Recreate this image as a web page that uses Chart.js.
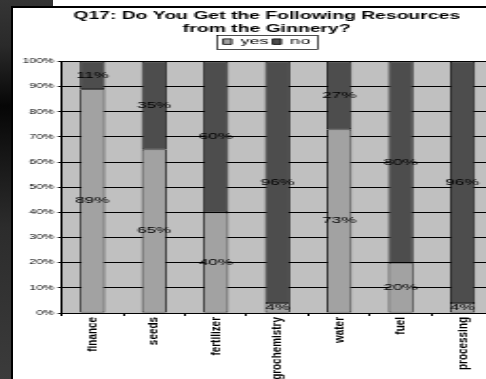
<!DOCTYPE html>
<html>
<head>
<meta charset="utf-8">
<title>Q17: Do You Get the Following Resources from the Ginnery?</title>
<script src="https://cdn.jsdelivr.net/npm/chart.js@4.4.1/dist/chart.umd.min.js"></script>
<style>
  html, body { margin: 0; padding: 0; width: 486px; height: 379px; overflow: hidden; background: #fff; }
  #side {
    position: absolute; left: 0; top: 0; width: 53px; height: 379px;
    background: linear-gradient(to bottom, #353535 0%, #2a2a2a 12%, #060606 28%, #151515 40%, #2c2c2c 60%, #3b3b3b 100%);
  }
  #frame {
    position: absolute; left: 11px; top: 6px; width: 540px; height: 390px;
    border-left: 2px solid #000; border-top: 2px solid #000; background: #fff;
  }
  /* the chart is drawn narrow and stretched sideways */
  #stretch {
    position: absolute; left: 0; top: 0; width: 267px; height: 372px;
    transform: scale(1.9, 1); transform-origin: 0 0;
  }
</style>
</head>
<body>
<div id="side"></div>
<div id="frame"><div id="stretch"><canvas id="c" width="267" height="372"></canvas></div></div>
<script>
const categories = ['finance', 'seeds', 'fertilizer', 'agrochemistry', 'water', 'fuel', 'processing'];
const yesValues = [89, 65, 40, 4, 73, 20, 4];
const noValues  = [11, 35, 60, 96, 27, 80, 96];
const percentTicks = [0, 10, 20, 30, 40, 50, 60, 70, 80, 90, 100];

const FONT = '"Liberation Sans", Arial, sans-serif';

// grey plot area behind the bars
const plotBackground = {
  id: 'plotBackground',
  beforeDraw(chart) {
    const { ctx, chartArea: a } = chart;
    ctx.save();
    ctx.fillStyle = '#c0c0c0';
    ctx.fillRect(a.left, a.top, a.right - a.left, a.bottom - a.top);
    ctx.restore();
  }
};

// thin frame round the legend items
const legendFrame = {
  id: 'legendFrame',
  afterDraw(chart) {
    const boxes = chart.legend && chart.legend.legendHitBoxes;
    if (!boxes || !boxes.length) return;
    const left = Math.min(...boxes.map(b => b.left)) - 4;
    const right = Math.max(...boxes.map(b => b.left + b.width)) + 3;
    const top = boxes[0].top - 2;
    const bottom = boxes[0].top + boxes[0].height + 2;
    const ctx = chart.ctx;
    ctx.save();
    ctx.strokeStyle = '#000';
    ctx.lineWidth = 0.7;
    ctx.strokeRect(Math.round(left) + 0.5, Math.round(top) + 0.5, Math.round(right - left), Math.round(bottom - top));
    ctx.restore();
  }
};

// vertical category names under the axis, written upward and lengthened
const categoryNames = {
  id: 'categoryNames',
  afterDraw(chart) {
    const scale = chart.scales.x;
    const ctx = chart.ctx;
    ctx.save();
    ctx.font = 'bold 7.3px ' + FONT;
    ctx.fillStyle = '#000';
    ctx.textAlign = 'right';
    ctx.textBaseline = 'middle';
    chart.data.labels.forEach((name, i) => {
      const x = scale.getPixelForTick(i);
      ctx.save();
      ctx.translate(x, scale.top + 4);
      ctx.rotate(-Math.PI / 2);
      ctx.scale(1.36, 1);
      ctx.fillText(name, 0, 0);
      ctx.restore();
    });
    ctx.restore();
  }
};

// percentage written in the middle of every bar segment
const segmentLabels = {
  id: 'segmentLabels',
  afterDatasetsDraw(chart) {
    const ctx = chart.ctx;
    ctx.save();
    ctx.font = '9px ' + FONT;
    ctx.fillStyle = '#000';
    ctx.textAlign = 'center';
    ctx.textBaseline = 'middle';
    chart.data.datasets.forEach((ds, i) => {
      chart.getDatasetMeta(i).data.forEach((bar, j) => {
        const { x, y, base } = bar.getProps(['x', 'y', 'base'], true);
        ctx.fillText(ds.data[j] + '%', x, (y + base) / 2);
      });
    });
    ctx.restore();
  }
};

new Chart(document.getElementById('c'), {
  type: 'bar',
  data: {
    labels: categories,
    datasets: [
      { label: 'yes', data: yesValues, backgroundColor: '#a2a2a2', borderColor: '#000', borderWidth: 0.8, borderSkipped: false },
      { label: 'no',  data: noValues,  backgroundColor: '#4d4d4d', borderColor: '#000', borderWidth: 0.8, borderSkipped: false }
    ]
  },
  options: {
    responsive: false,
    devicePixelRatio: 1,
    animation: false,
    events: [],
    datasets: { bar: { categoryPercentage: 1, barPercentage: 0.405 } },
    layout: { padding: 0 },
    scales: {
      x: {
        stacked: true,
        offset: true,
        grid: { display: true, drawOnChartArea: false, drawTicks: true, tickLength: 3, color: '#000', offset: true },
        border: { display: true, color: '#000', width: 1 },
        ticks: { display: false },
        afterFit(scale) { scale.height = 67; }
      },
      y: {
        stacked: true,
        min: 0, max: 100,
        afterBuildTicks(scale) { scale.ticks = percentTicks.map(v => ({ value: v })); },
        grid: { color: '#000', lineWidth: 1, drawTicks: true, tickLength: 2 },
        border: { display: true, color: '#000', width: 1 },
        ticks: { color: '#000', font: { family: FONT, size: 6.5 }, padding: 2, callback: v => v + '%' },
        afterFit(scale) { scale.width = 25.6; }
      },
      edge: {
        type: 'linear',
        position: 'right',
        display: true,
        grid: { display: false },
        border: { display: false },
        ticks: { display: false },
        afterFit(scale) { scale.width = 14.2; }
      }
    },
    plugins: {
      title: {
        display: true,
        text: ['Q17: Do You Get the Following Resources', 'from the Ginnery?'],
        color: '#000',
        font: { family: FONT, size: 10.2, weight: 'bold', lineHeight: 1.2 },
        padding: { top: 2.4, bottom: 0 }
      },
      subtitle: {
        display: true,
        text: ' ',
        weight: 500,
        font: { size: 1, lineHeight: 1 },
        padding: { top: 0, bottom: 4.1 }
      },
      legend: {
        display: true,
        position: 'top',
        labels: {
          color: '#000',
          font: { family: FONT, size: 9.5 },
          boxWidth: 4.5, boxHeight: 5.5, padding: 2
        }
      },
      tooltip: { enabled: false }
    }
  },
  plugins: [plotBackground, legendFrame, categoryNames, segmentLabels]
});
</script>
</body>
</html>
